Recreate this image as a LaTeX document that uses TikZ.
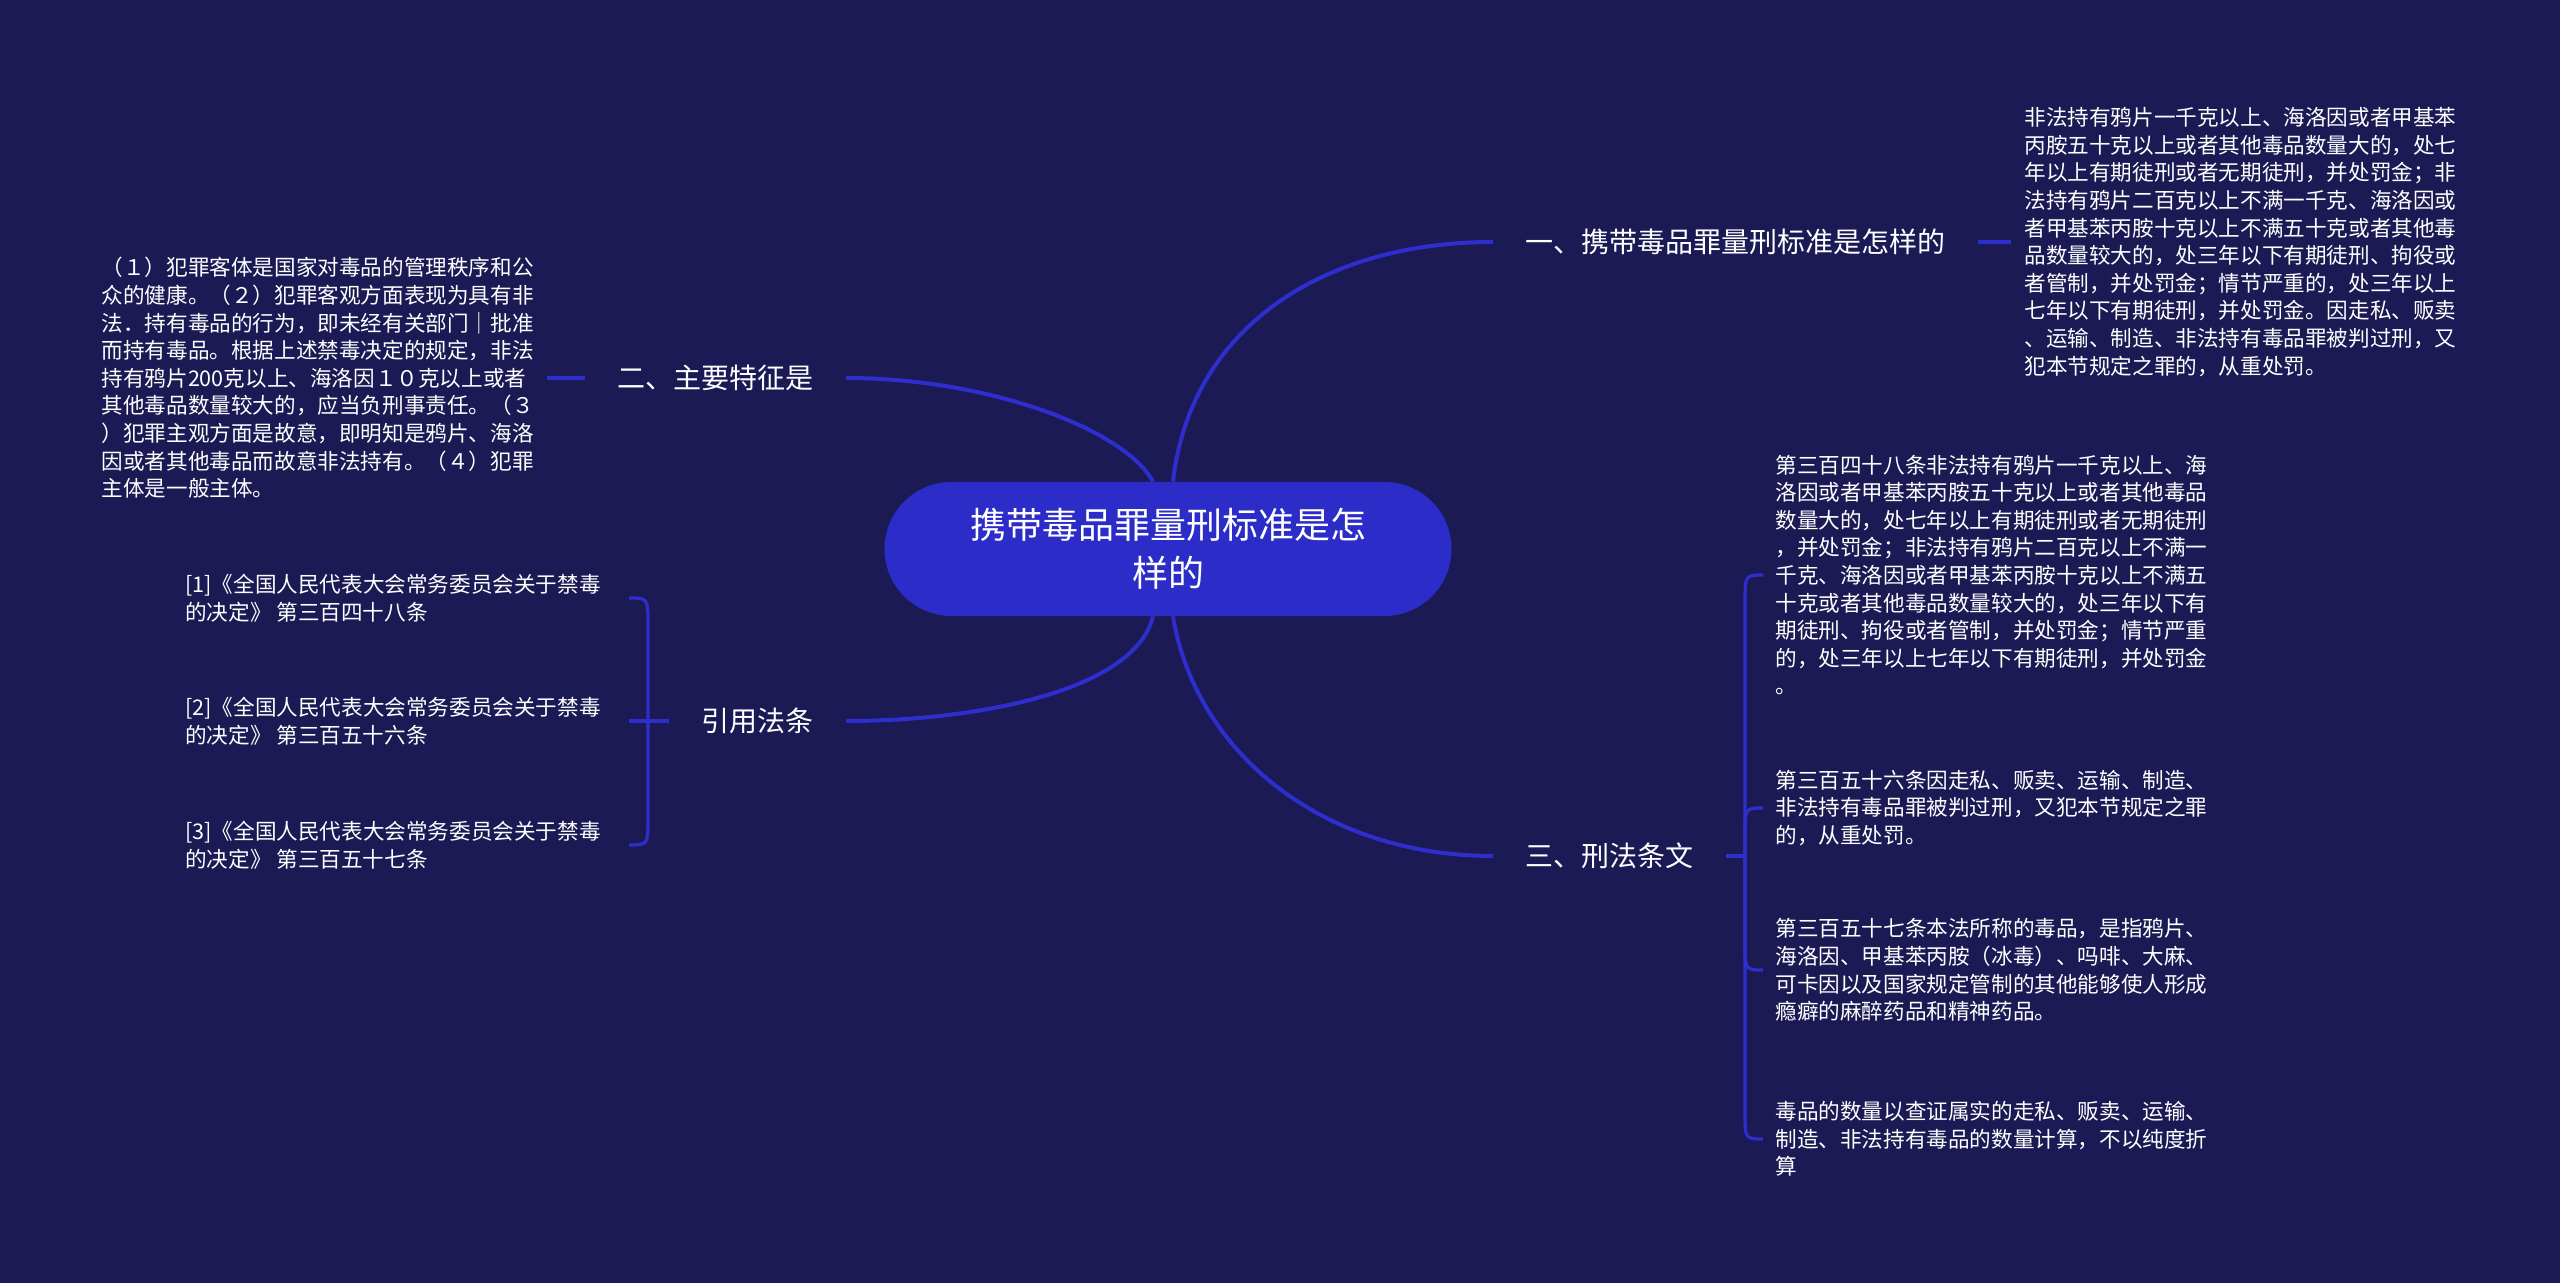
\documentclass[tikz,border=0pt]{standalone}
\usepackage{fontspec}
\setmainfont{Noto Sans CJK SC}
\usetikzlibrary{calc}
\definecolor{bg}{RGB}{27,26,84}
\definecolor{rootfill}{RGB}{44,44,200}
\definecolor{linkcol}{RGB}{46,46,206}
\begin{document}
\begin{tikzpicture}[x=0.5pt,y=-0.5pt,
  rootnode/.style={fill=rootfill, rounded corners=33.5pt, minimum width=283.5pt, minimum height=67pt,
    text=white, align=center, font=\fontsize{18pt}{24pt}\selectfont, inner sep=0pt},
  branch/.style={text=white, font=\fontsize{14pt}{17pt}\selectfont, inner xsep=16pt, inner ysep=4pt},
  detail/.style={text=white, align=left, font=\fontsize{10.8pt}{13.8pt}\selectfont, inner xsep=6.5pt, inner ysep=2pt},
  citation/.style={detail, inner xsep=14pt},
  conn/.style={draw=linkcol, line width=2pt},
  bracelink/.style={draw=linkcol, line width=1.6pt}]
\fill[bg] (0,0) rectangle (2560,1283);
\useasboundingbox (0,0) rectangle (2560,1283);

% root
\node[rootnode] (c) at (1168,549) {携带毒品罪量刑标准是怎\\样的};

% branches
\node[branch, anchor=west] (b1) at (1493,242) {一、携带毒品罪量刑标准是怎样的};
\node[branch, anchor=east] (b2) at (846,378) {二、主要特征是};
\node[branch, anchor=east] (b3) at (846,721) {引用法条};
\node[branch, anchor=west] (b4) at (1493,856) {三、刑法条文};

% details
\node[detail, anchor=west] (d1) at (2011,242) {非法持有鸦片一千克以上、海洛因或者甲基苯\\
丙胺五十克以上或者其他毒品数量大的，处七\\
年以上有期徒刑或者无期徒刑，并处罚金；非\\
法持有鸦片二百克以上不满一千克、海洛因或\\
者甲基苯丙胺十克以上不满五十克或者其他毒\\
品数量较大的，处三年以下有期徒刑、拘役或\\
者管制，并处罚金；情节严重的，处三年以上\\
七年以下有期徒刑，并处罚金。因走私、贩卖\\
、运输、制造、非法持有毒品罪被判过刑，又\\
犯本节规定之罪的，从重处罚。};

\node[detail, anchor=east] (d2) at (547,378) {（１）犯罪客体是国家对毒品的管理秩序和公\\
众的健康。（２）犯罪客观方面表现为具有非\\
法．持有毒品的行为，即未经有关部门｜批准\\
而持有毒品。根据上述禁毒决定的规定，非法\\
持有鸦片200克以上、海洛因１０克以上或者\\
其他毒品数量较大的，应当负刑事责任。（３\\
）犯罪主观方面是故意，即明知是鸦片、海洛\\
因或者其他毒品而故意非法持有。（４）犯罪\\
主体是一般主体。};

\node[citation, anchor=east] (q1) at (629,598) {[1]《全国人民代表大会常务委员会关于禁毒\\的决定》 第三百四十八条};
\node[citation, anchor=east] (q2) at (629,721) {[2]《全国人民代表大会常务委员会关于禁毒\\的决定》 第三百五十六条};
\node[citation, anchor=east] (q3) at (629,845) {[3]《全国人民代表大会常务委员会关于禁毒\\的决定》 第三百五十七条};

\node[detail, anchor=west, inner xsep=6pt] (k1) at (1763,575) {第三百四十八条非法持有鸦片一千克以上、海\\
洛因或者甲基苯丙胺五十克以上或者其他毒品\\
数量大的，处七年以上有期徒刑或者无期徒刑\\
，并处罚金；非法持有鸦片二百克以上不满一\\
千克、海洛因或者甲基苯丙胺十克以上不满五\\
十克或者其他毒品数量较大的，处三年以下有\\
期徒刑、拘役或者管制，并处罚金；情节严重\\
的，处三年以上七年以下有期徒刑，并处罚金\\
。};
\node[detail, anchor=west, inner xsep=6pt] (k2) at (1763,808) {第三百五十六条因走私、贩卖、运输、制造、\\
非法持有毒品罪被判过刑，又犯本节规定之罪\\
的，从重处罚。};
\node[detail, anchor=west, inner xsep=6pt] (k3) at (1763,970) {第三百五十七条本法所称的毒品，是指鸦片、\\
海洛因、甲基苯丙胺（冰毒）、吗啡、大麻、\\
可卡因以及国家规定管制的其他能够使人形成\\
瘾癖的麻醉药品和精神药品。};
\node[detail, anchor=west, inner xsep=6pt] (k4) at (1763,1139) {毒品的数量以查证属实的走私、贩卖、运输、\\
制造、非法持有毒品的数量计算，不以纯度折\\
算};

% root connectors
\draw[conn] ([xshift=2.5pt]c.north) .. controls (1190,330) and (1320,242) .. (b1.west);
\draw[conn] ([xshift=-7.5pt]c.north) .. controls (1125,430) and (990,378) .. (b2.east);
\draw[conn] ([xshift=-7.5pt]c.south) .. controls (1135,690) and (980,721) .. (b3.east);
\draw[conn] ([xshift=2.5pt]c.south) .. controls (1195,750) and (1320,856) .. (b4.west);

% stubs
\draw[conn] (b1.east) -- (d1.west);
\draw[conn] (d2.east) -- (b2.west);

% left brace
\coordinate (lr) at (648,721);
\draw[bracelink] (b3.west) -- (q2.east);
\draw[bracelink] (lr) -- ($(lr |- q1.east)+(0,28)$) .. controls (lr |- q1.east) .. (q1.east);
\draw[bracelink] (lr) -- ($(lr |- q3.east)+(0,-28)$) .. controls (lr |- q3.east) .. (q3.east);

% right brace
\coordinate (rr) at (1745,856);
\draw[bracelink] (b4.east) -- (rr);
\draw[bracelink] (rr) -- ($(rr |- k1.west)+(0,28)$) .. controls (rr |- k1.west) .. (k1.west);
\draw[bracelink] (rr) -- ($(rr |- k2.west)+(0,28)$) .. controls (rr |- k2.west) .. (k2.west);
\draw[bracelink] (rr) -- ($(rr |- k3.west)+(0,-28)$) .. controls (rr |- k3.west) .. (k3.west);
\draw[bracelink] (rr) -- ($(rr |- k4.west)+(0,-28)$) .. controls (rr |- k4.west) .. (k4.west);
\end{tikzpicture}
\end{document}
